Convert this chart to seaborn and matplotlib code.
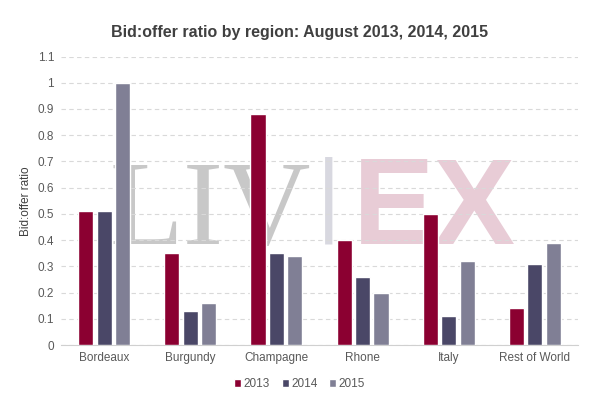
import seaborn as sns
import matplotlib.pyplot as plt
import pandas as pd

regions = ["Bordeaux", "Burgundy", "Champagne", "Rhone", "Italy", "Rest of World"]
years = ["2013", "2014", "2015"]
ratio_2013 = [0.51, 0.35, 0.88, 0.40, 0.50, 0.14]
ratio_2014 = [0.51, 0.13, 0.35, 0.26, 0.11, 0.31]
ratio_2015 = [1.00, 0.16, 0.34, 0.20, 0.32, 0.39]
colors = ["#8B0031", "#4A4767", "#807F95"]

rows = []
for year, vals in zip(years, [ratio_2013, ratio_2014, ratio_2015]):
    for region, v in zip(regions, vals):
        rows.append({"Region": region, "Year": year, "Ratio": v})
df = pd.DataFrame(rows)

sns.set_style("white")
plt.rcParams["font.family"] = ["Liberation Sans", "DejaVu Sans"]

fig = plt.figure(figsize=(5.99, 3.99), dpi=100)
ax = fig.add_axes([61 / 599, 1 - 345 / 399, 517 / 599, 288.5 / 399])

# watermark, behind the grid and bars
wm = dict(transform=fig.transFigure, zorder=0.1, va="baseline")
ax.text(110 / 599, 1 - 244 / 399, "LIV", family="Liberation Serif", fontsize=87,
        color="#c8c8c8", ha="left", **wm)
ax.text(329 / 599, 1 - 223 / 399, "|", family="DejaVu Sans", fontsize=63,
        color="#d8d8e0", ha="center", **wm)
ax.text(353 / 599, 1 - 244 / 399, "EX", family="Liberation Sans", fontweight="bold",
        fontsize=88, color="#e8ccd6", ha="left", **wm)

sns.barplot(data=df, x="Region", y="Ratio", hue="Year", palette=colors,
            width=0.64, gap=0.18, saturation=1, ax=ax, zorder=3)

ax.set_ylim(0, 1.1)
ax.set_yticks([i / 10 for i in range(12)])
ax.set_yticklabels(["0", "0.1", "0.2", "0.3", "0.4", "0.5", "0.6", "0.7", "0.8", "0.9", "1", "1.1"])
ax.yaxis.grid(True, linestyle=(0, (4, 3)), color="#d9d9d9", linewidth=0.8, zorder=0.5)
ax.set_axisbelow(True)
for s in ["top", "right", "left"]:
    ax.spines[s].set_visible(False)
ax.spines["bottom"].set_color("#d0d0d0")
ax.tick_params(axis="both", length=0, labelsize=8.5, colors="#595959", pad=5)
ax.set_xlabel("")
ax.set_ylabel("Bid:offer ratio", fontsize=8.5, color="#404040")

fig.text(0.5, 1 - 32 / 399, "Bid:offer ratio by region: August 2013, 2014, 2015",
         fontsize=11.5, fontweight="bold", color="#404040", ha="center", va="center")

ax.legend(loc="center", bbox_to_anchor=(0.5, 1 - 384 / 399),
          bbox_transform=fig.transFigure, ncol=3, frameon=False,
          fontsize=8.5, handlelength=0.6, handleheight=0.6, handletextpad=0.2,
          columnspacing=1.0, labelcolor="#595959")

fig.savefig("out.png", dpi=100)
